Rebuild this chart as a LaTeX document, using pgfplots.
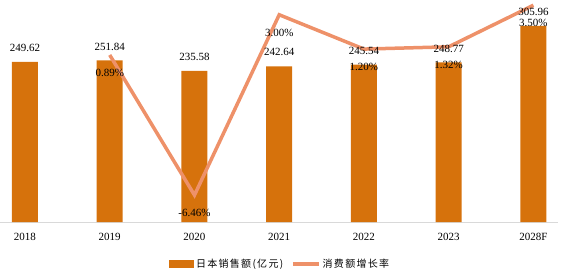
\documentclass[border=0pt]{standalone}
\usepackage{pgfplots}
\pgfplotsset{compat=1.18}
\usepackage{fontspec}
\setmainfont{Liberation Serif}
\newfontfamily\cjk[LetterSpace=13]{Noto Sans CJK SC}
\definecolor{barc}{RGB}{214,114,12}
\definecolor{linec}{RGB}{238,145,105}
\newcommand\nf{\fontsize{11bp}{13bp}\selectfont}
\begin{document}
\begin{tikzpicture}
\useasboundingbox (0,-51bp) rectangle (565bp,222bp);
\begin{axis}[
  at={(0,0)}, anchor=south west,
  scale only axis, width=558bp, height=220bp,
  xmin=-0.295, xmax=6.29, ymin=0, ymax=343,
  axis x line=bottom, axis y line=none,
  axis line style={-, draw=black!15, line width=0.8pt},
  xtick={0,1,2,3,4,5,6},
  xticklabels={2018,2019,2020,2021,2022,2023,2028F},
  major tick length=0pt,
  xticklabel style={font=\nf, anchor=center, yshift=-15bp},
  ytick=\empty,
  legend columns=2,
  legend style={at={(0.502,-0.191)}, anchor=center, draw=none, fill=none,
    font=\cjk\fontsize{10bp}{12bp}\selectfont,
    /tikz/every even column/.append style={column sep=6bp},
    inner sep=0pt},
  legend cell align=left,
]
\addplot[ybar, bar width=26bp, fill=barc, draw=none,
  legend image code/.code={\fill[barc] (0bp,-4bp) rectangle (25bp,4bp);}]
coordinates {(0,249.62) (1,251.84) (2,235.58) (3,242.64) (4,245.54) (5,248.77) (6,305.96)};
\addlegendentry{日本销售额(亿元)}
\addlegendimage{legend image code/.code={\draw[linec, line width=3.5bp] (0bp,0bp) -- (26bp,0bp);}}
\addlegendentry{消费额增长率}
\end{axis}
\begin{axis}[
  at={(0,0)}, anchor=south west,
  scale only axis, width=558bp, height=220bp,
  xmin=-0.295, xmax=6.29, ymin=-7.87, ymax=3.67,
  hide axis, clip=false,
]
\addplot[linec, line width=3.5bp, mark=none,
  nodes near coords, point meta=explicit symbolic,
  every node near coord/.append style={font=\nf, text=black, anchor=center, yshift=-18bp}]
coordinates {(1,0.89)[0.89\%] (2,-6.46)[-6.46\%] (3,3.00)[3.00\%] (4,1.20)[1.20\%] (5,1.32)[1.32\%] (6,3.50)[3.50\%]};
\end{axis}
\begin{axis}[
  at={(0,0)}, anchor=south west,
  scale only axis, width=558bp, height=220bp,
  xmin=-0.295, xmax=6.29, ymin=0, ymax=343,
  hide axis, clip=false,
]
\addplot[draw=none, mark=none,
  nodes near coords, point meta=explicit symbolic,
  every node near coord/.append style={font=\nf, text=black, anchor=center, yshift=14bp}]
coordinates {(0,249.62)[249.62] (1,251.84)[251.84] (2,235.58)[235.58] (3,242.64)[242.64] (4,245.54)[245.54] (5,248.77)[248.77] (6,305.96)[305.96]};
\end{axis}
\end{tikzpicture}
\end{document}
